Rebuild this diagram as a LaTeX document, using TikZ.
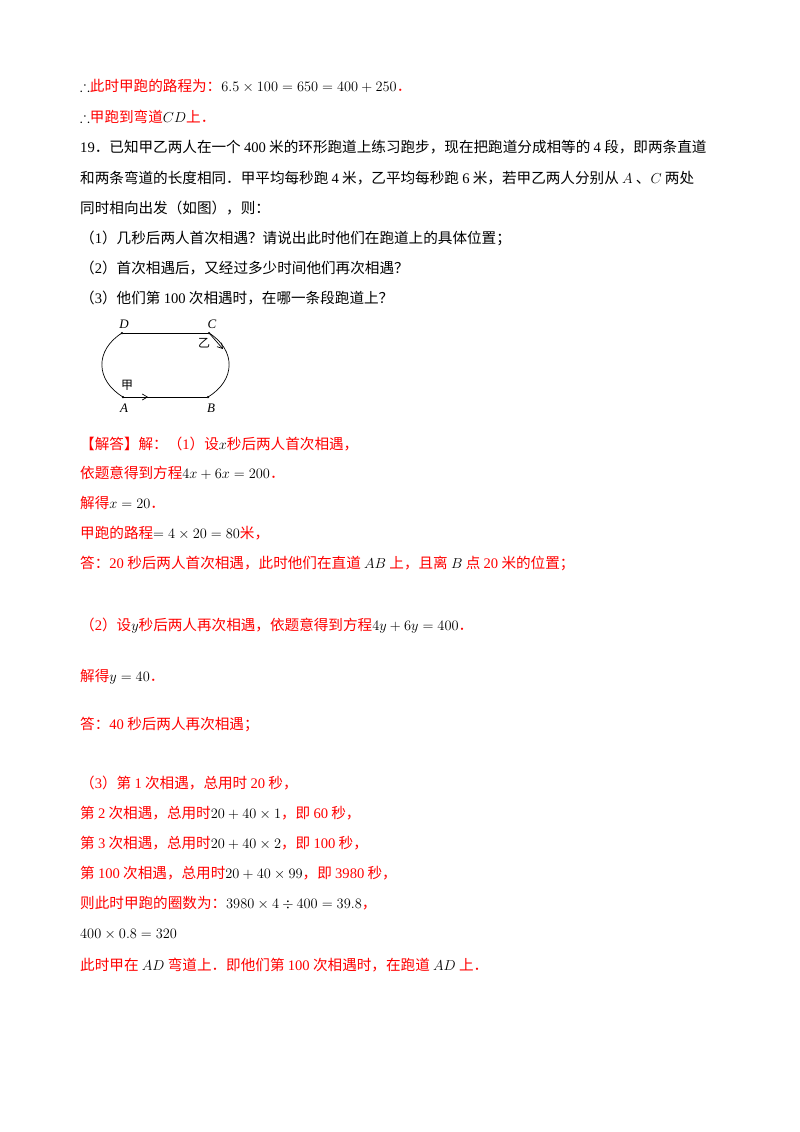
\documentclass[tikz,border=0pt]{standalone}
\usepackage{amssymb}
\usepackage{fontspec}
\usetikzlibrary{arrows.meta}
\setmainfont{Noto Sans CJK SC}
\newfontfamily\tms{Liberation Serif}
\begin{document}
\begin{tikzpicture}[x=1pt,y=-1pt,
  t/.style={anchor=base west,inner sep=0pt,font=\fontsize{14.6}{17}\selectfont},
  r/.style={t,text=red},
  pt/.style={circle,fill,inner sep=0pt,minimum size=2.5pt},
  arr/.style={-{Straight Barb[length=5pt,width=6pt]},line width=0.7pt},
  lab/.style={font=\fontsize{13}{15}\selectfont\tms\itshape,inner sep=0pt}]
\useasboundingbox (0,0) rectangle (800,1132);
\node[r] (t1) at (80,92) {\textcolor{black}{$\therefore$}此时甲跑的路程为：\textcolor{black}{$6.5\times100=650=400+250$}．};
\node[r] (t2) at (80,122) {\textcolor{black}{$\therefore$}甲跑到弯道\textcolor{black}{$CD$}上．};
\node[t] (t3) at (80,152) {{\tms 19}．已知甲乙两人在一个 {\tms 400} 米的环形跑道上练习跑步，现在把跑道分成相等的 {\tms 4} 段，即两条直道};
\node[t] (t4) at (80,183) {和两条弯道的长度相同．甲平均每秒跑 {\tms 4} 米，乙平均每秒跑 {\tms 6} 米，若甲乙两人分别从 $A$ 、$C$ 两处};
\node[t] (t5) at (80,213) {同时相向出发（如图），则：};
\node[t] (t6) at (80,243) {（{\tms 1}）几秒后两人首次相遇？请说出此时他们在跑道上的具体位置；};
\node[t] (t7) at (80,273) {（{\tms 2}）首次相遇后，又经过多少时间他们再次相遇？};
\node[t] (t8) at (80,303) {（{\tms 3}）他们第 {\tms 100} 次相遇时，在哪一条段跑道上？};
% diagram
\node[pt] (D) at (122,333) {};
\node[pt] (C) at (209,333) {};
\node[pt] (A) at (123,397) {};
\node[pt] (B) at (208,397) {};
\draw[line width=0.7pt] (D) -- (C);
\draw[line width=0.7pt] (A) -- (B);
\draw[line width=0.7pt] (D.center) .. controls (95,350) and (95,380) .. (A.center);
\draw[line width=0.7pt] (C.center) .. controls (236,350) and (236,380) .. (B.center);
\coordinate (ae) at (148,397);
\coordinate (ce) at (223,349);
\draw[arr] (A.center) -- (ae);
\draw[arr] (C.center) -- (ce);
\node[lab] (lD) at (124,324) {D};
\node[lab] (lC) at (212,324) {C};
\node[lab] (lA) at (124,408) {A};
\node[lab] (lB) at (211,408) {B};
\node[inner sep=0pt,font=\fontsize{12}{14}\selectfont] (yi) at (204,343) {乙};
\node[inner sep=0pt,font=\fontsize{12}{14}\selectfont] (jia) at (127,385) {甲};
% answers
\node[r] (a1) at (80,449) {【解答】解：（{\tms 1}）设\textcolor{black}{$x$}秒后两人首次相遇，};
\node[r] (a2) at (80,478) {依题意得到方程\textcolor{black}{$4x+6x=200$}．};
\node[r] (a3) at (80,508) {解得\textcolor{black}{$x=20$}．};
\node[r] (a4) at (80,538) {甲跑的路程\textcolor{black}{$=4\times20=80$}米，};
\node[r] (a5) at (80,568) {答：{\tms 20} 秒后两人首次相遇，此时他们在直道 \textcolor{black}{$AB$} 上，且离 \textcolor{black}{$B$} 点 {\tms 20} 米的位置；};
\node[r] (a6) at (80,630) {（{\tms 2}）设\textcolor{black}{$y$}秒后两人再次相遇，依题意得到方程\textcolor{black}{$4y+6y=400$}．};
\node[r] (a7) at (80,681) {解得\textcolor{black}{$y=40$}．};
\node[r] (a8) at (80,729) {答：{\tms 40} 秒后两人再次相遇；};
\node[r] (a9) at (80,788) {（{\tms 3}）第 {\tms 1} 次相遇，总用时 {\tms 20} 秒，};
\node[r] (a10) at (80,818) {第 {\tms 2} 次相遇，总用时\textcolor{black}{$20+40\times1$}，即 {\tms 60} 秒，};
\node[r] (a11) at (80,848) {第 {\tms 3} 次相遇，总用时\textcolor{black}{$20+40\times2$}，即 {\tms 100} 秒，};
\node[r] (a12) at (80,878) {第 {\tms 100} 次相遇，总用时\textcolor{black}{$20+40\times99$}，即 {\tms 3980} 秒，};
\node[r] (a13) at (80,908) {则此时甲跑的圈数为：\textcolor{black}{$3980\times4\div400=39.8$}，};
\node[t] (a14) at (80,938) {$400\times0.8=320$};
\node[r] (a15) at (80,970) {此时甲在 \textcolor{black}{$AD$} 弯道上．即他们第 {\tms 100} 次相遇时，在跑道 \textcolor{black}{$AD$} 上．};
\end{tikzpicture}
\end{document}
